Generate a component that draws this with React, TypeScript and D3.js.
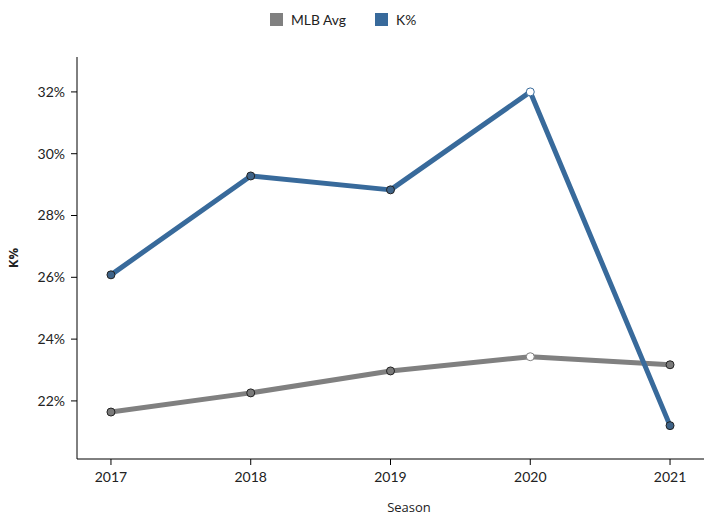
import React from "react";
import * as d3 from "d3";

const seasons = [2017, 2018, 2019, 2020, 2021];
const kPct = [26.08, 29.28, 28.83, 32.0, 21.2];
const mlbAvg = [21.64, 22.26, 22.97, 23.43, 23.17];
const yTicks = [22, 24, 26, 28, 30, 32];
const highlightSeason = 2020;

const W = 713;
const H = 519;
const left = 77;
const right = 704;
const top = 57;
const bottom = 459;

const BLUE = "#386a9b";
const GRAY = "#808080";
const font = "Lato, 'Open Sans', sans-serif";

export default function App() {
  const x = d3.scaleLinear().domain([2016.757, 2021.243]).range([left, right]);
  const y = d3.scaleLinear().domain([20.12, 33.13]).range([bottom, top]);
  const line = d3
    .line<number>()
    .x((_, i) => x(seasons[i]))
    .y((d) => y(d));

  const series = [
    { name: "MLB Avg", values: mlbAvg, color: GRAY, markerFill: "#7a7a7a" },
    { name: "K%", values: kPct, color: BLUE, markerFill: "#3e6388" },
  ];

  return (
    <svg
      width={W}
      height={H}
      style={{ position: "absolute", left: 0, top: 0, background: "#fff" }}
      fontFamily={font}
    >
      {/* legend */}
      <rect x={270} y={13} width={13} height={13} fill={GRAY} />
      <text x={291} y={24.5} fontSize={13.8} fill="#222">MLB Avg</text>
      <rect x={375} y={13} width={13} height={13} fill={BLUE} />
      <text x={396} y={24.5} fontSize={13.8} fill="#222">K%</text>

      {/* axes */}
      <line x1={left} x2={left} y1={top} y2={bottom} stroke="#000" strokeWidth={1} />
      <line x1={left} x2={right} y1={bottom} y2={bottom} stroke="#000" strokeWidth={1} />
      {yTicks.map((t) => (
        <g key={t}>
          <line x1={left - 6} x2={left} y1={y(t)} y2={y(t)} stroke="#000" />
          <text x={left - 12} y={y(t)} dy="0.35em" textAnchor="end" fontSize={14} fill="#222">
            {t}%
          </text>
        </g>
      ))}
      {seasons.map((s) => (
        <g key={s}>
          <line x1={x(s)} x2={x(s)} y1={bottom} y2={bottom + 6} stroke="#000" />
          <text x={x(s)} y={bottom + 23} textAnchor="middle" fontSize={14} fill="#222">
            {s}
          </text>
        </g>
      ))}
      <text x={409} y={512} textAnchor="middle" fontSize={13} fill="#222" fontFamily="'Open Sans', sans-serif">
        Season
      </text>
      <text
        transform={`translate(18, ${258}) rotate(-90)`}
        textAnchor="middle"
        fontSize={13}
        fontWeight="bold"
        fill="#222"
        fontFamily="'Open Sans', sans-serif"
      >
        K%
      </text>

      {/* lines */}
      {series.map((s) => (
        <g key={s.name}>
          <path d={line(s.values) || ""} fill="none" stroke={s.color} strokeWidth={5} strokeLinejoin="round" />
          {s.values.map((v, i) => (
            <circle
              key={i}
              cx={x(seasons[i])}
              cy={y(v)}
              r={4}
              fill={seasons[i] === highlightSeason ? "#fff" : s.markerFill}
              stroke={seasons[i] === highlightSeason ? s.color : "#222"}
              strokeWidth={1}
            />
          ))}
        </g>
      ))}
    </svg>
  );
}
